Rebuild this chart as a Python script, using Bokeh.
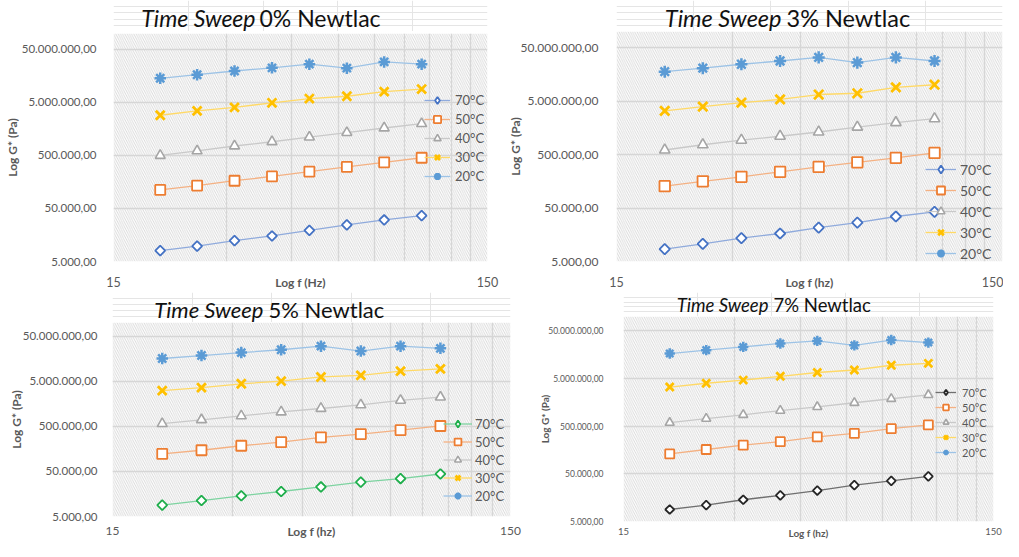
import math
from bokeh.plotting import figure
from bokeh.layouts import column, row
from bokeh.models import (FixedTicker, CustomJSTickFormatter, BoxAnnotation, Label,
                          Legend, LegendItem, Range1d)
from bokeh.embed import file_html
from bokeh.resources import INLINE

# ---------------- data ----------------
freq_hz = [20.0, 25.1, 31.6, 39.8, 50.1, 63.1, 79.4, 100.0]
temps = ["70°C", "50°C", "40°C", "30°C", "20°C"]

ytick_values = [5000, 50000, 500000, 5000000, 50000000]
ytick_labels = ["5.000,00", "50.000,00", "500.000,00", "5.000.000,00", "50.000.000,00"]
xtick_values = [15, 150]
xtick_labels = ["15", "150"]
x_minor_grid = [30, 45, 60, 75, 90, 105, 120, 135]

titles_italic = ["Time Sweep", "Time Sweep", "Time Sweep", "Time Sweep"]
titles_rest = ["0% Newtlac", "3% Newtlac", "5% Newtlac", "7% Newtlac"]
x_titles = ["Log f (Hz)", "Log f (hz)", "Log f (hz)", "Log f (hz)"]
y_title = "Log G* (Pa)"

# 0 % Newtlac
g0_70 = [8000, 9750, 12400, 15150, 19300, 24550, 30400, 36600]
g0_50 = [112000, 135000, 167000, 201000, 249000, 304000, 371000, 453000]
g0_40 = [500000, 610000, 755000, 908000, 1110000, 1350000, 1650000, 1990000]
g0_30 = [2870000, 3460000, 4040000, 4930000, 5930000, 6550000, 8000000, 8960000]
g0_20 = [14300000, 16700000, 19600000, 22500000, 26400000, 22200000, 29100000, 26400000]

# 3 % Newtlac
g3_70 = [8530, 10700, 13700, 16700, 21500, 26600, 34700, 42300]
g3_50 = [128000, 158000, 192000, 238000, 293000, 357000, 435000, 536000]
g3_40 = [608000, 762000, 928000, 1100000, 1320000, 1630000, 1980000, 2340000]
g3_30 = [3280000, 3940000, 4660000, 5360000, 6630000, 7000000, 9000000, 10100000]
g3_20 = [17700000, 20600000, 24400000, 28100000, 32800000, 26200000, 32800000, 28100000]

# 5 % Newtlac
g5_70 = [8930, 11300, 14400, 17900, 22600, 29000, 34700, 43800]
g5_50 = [122000, 147000, 185000, 222000, 284000, 336000, 410000, 508000]
g5_40 = [571000, 697000, 849000, 1040000, 1240000, 1490000, 1880000, 2220000]
g5_30 = [3090000, 3590000, 4380000, 5000000, 6200000, 6740000, 8360000, 9380000]
g5_20 = [15900000, 18500000, 21500000, 24900000, 29900000, 23300000, 29900000, 26700000]

# 7 % Newtlac
g7_70 = [8930, 11000, 14300, 17700, 22300, 28900, 35700, 44300]
g7_50 = [130700, 162000, 200000, 237000, 298000, 352000, 443000, 531000]
g7_40 = [591000, 721000, 866000, 1060000, 1270000, 1550000, 1880000, 2260000]
g7_30 = [3310000, 3980000, 4630000, 5560000, 6680000, 7550000, 9480000, 10400000]
g7_20 = [16700000, 19700000, 23000000, 27200000, 30700000, 24800000, 32100000, 28400000]

panel_series = [
    [g0_70, g0_50, g0_40, g0_30, g0_20],
    [g3_70, g3_50, g3_40, g3_30, g3_20],
    [g5_70, g5_50, g5_40, g5_30, g5_20],
    [g7_70, g7_50, g7_40, g7_30, g7_20],
]

# ---------------- styles ----------------
markers = ["square", "square", "triangle", "x", "asterisk"]
angles = [math.pi / 4, 0, 0, 0, 0]
marker_colors = ["#4472C4", "#ED7D31", "#A5A5A5", "#FFC000", "#5B9BD5"]
line_colors = ["#8FAADC", "#F4B183", "#C9C9C9", "#FFD966", "#9DC3E6"]
mcol70 = ["#4472C4", "#4472C4", "#1EAE4B", "#262626"]
lcol70 = ["#8FAADC", "#8FAADC", "#7DD3A0", "#6F6F6F"]

FONT = "Lato"
GRAY = "#595959"

layouts = [
    dict(w=502, th=31, h=261, l=113, r=15, t=2, b=27, tfs=11.5, ys=17, xs=11, xfs=12.5,
         ti=142, tr=146, ty=14, tt=23, ysd=-1, lfs=12, xsd=-15,
         leg=(311, 76, 26, 18, 18, 1, 5, 13), ms=1.0),
    dict(w=501, th=31, h=261, l=114, r=1, t=0, b=27, tfs=12, ys=18, xs=11, xfs=12.5,
         ti=165, tr=170, ty=14, tt=23.5, ysd=-5, lfs=12, xsd=-15,
         leg=(309, -2, 31, 20, 20, 1, 4, 14), ms=1.05),
    dict(w=536, th=30, h=219, l=112, r=26, t=0, b=21, tfs=11.5, ys=15, xs=6, xfs=12,
         ti=151, tr=156, ty=13, tt=22, ysd=-4, lfs=12, xsd=-14,
         leg=(331, 12, 29, 17, 17, 1, 3, 13), ms=1.0),
    dict(w=467, th=24, h=225, l=85, r=10, t=0, b=14, tfs=8.5, ys=20, xs=2, xfs=9.5,
         ti=145, tr=150, ty=12, tt=18.5, ysd=-6, lfs=10, xsd=-11,
         leg=(312, 62, 21, 14, 14, 1, 6, 11), ms=0.9),
]

fmt_code = """
for (let i = 0; i < vals.length; i++) {
  if (Math.abs(Math.log10(tick) - Math.log10(vals[i])) < 1e-6) return labels[i];
}
return '';
"""


def make_title(k):
    L = layouts[k]
    t = figure(width=L["w"], height=L["th"], x_range=(0, 1), y_range=(0, 1), title=None,
               toolbar_location=None, output_backend="svg", x_axis_location=None,
               y_axis_location=None, min_border=0)
    t.outline_line_color = None
    t.background_fill_color = "white"
    t.border_fill_color = "white"
    t.add_layout(Label(x=L["ti"], y=L["ty"], x_units="screen", y_units="screen",
                       text=titles_italic[k], text_align="right", text_baseline="middle",
                       text_font=FONT, text_font_style="italic",
                       text_font_size=f"{L['tt']}px", text_color="#111111"))
    t.add_layout(Label(x=L["tr"], y=L["ty"], x_units="screen", y_units="screen",
                       text=titles_rest[k], text_align="left", text_baseline="middle",
                       text_font=FONT, text_font_size=f"{L['tt']}px", text_color="#111111"))
    return t


def make_panel(k):
    L = layouts[k]
    p = figure(width=L["w"], height=L["h"], x_axis_type="log", y_axis_type="log",
               x_range=(15, 150), y_range=(5000, 1e8), title=None,
               toolbar_location=None, output_backend="svg",
               min_border_left=L["l"], min_border_right=L["r"],
               min_border_top=L["t"], min_border_bottom=L["b"])
    p.outline_line_color = None
    p.background_fill_color = "white"
    p.border_fill_color = "white"
    # range far outside the view: used only to give the legend a diamond swatch
    p.extra_y_ranges = {"legend_only": Range1d(start=1e15, end=1e16)}

    # hatched plot-area background
    p.add_layout(BoxAnnotation(level="image", fill_alpha=0, line_color=None,
                               hatch_pattern="\\", hatch_color="#cdcdcd",
                               hatch_scale=4.5, hatch_weight=0.75, hatch_alpha=1.0))

    xt = FixedTicker(ticks=xtick_values, minor_ticks=x_minor_grid)
    yt = FixedTicker(ticks=ytick_values, minor_ticks=[])
    p.xaxis.ticker = xt
    p.xgrid.ticker = xt
    p.yaxis.ticker = yt
    p.ygrid.ticker = yt
    p.xaxis.formatter = CustomJSTickFormatter(args=dict(vals=xtick_values, labels=xtick_labels),
                                              code=fmt_code)
    p.yaxis.formatter = CustomJSTickFormatter(args=dict(vals=ytick_values, labels=ytick_labels),
                                              code=fmt_code)
    for ax in (p.xaxis, p.yaxis):
        ax.axis_line_color = None
        ax.major_tick_line_color = None
        ax.minor_tick_line_color = None
        ax.major_tick_out = 0
        ax.major_tick_in = 0
        ax.major_label_text_font = FONT
        ax.major_label_text_color = GRAY
        ax.axis_label_text_font = FONT
        ax.axis_label_text_font_style = "bold"
        ax.axis_label_text_color = GRAY
        ax.axis_label_text_font_size = f"{L['lfs']}px"
    p.yaxis.major_label_text_font_size = f"{L['tfs']}px"
    p.xaxis.major_label_text_font_size = f"{L['xfs']}px"
    p.yaxis.major_label_standoff = L["ys"]
    p.xaxis.major_label_standoff = L["xs"]
    p.yaxis.axis_label = y_title
    p.yaxis.axis_label_standoff = L["ysd"]
    p.xaxis.axis_label = x_titles[k]
    p.xaxis.axis_label_standoff = L["xsd"]

    p.xgrid.grid_line_color = "#d6d6d6"
    p.xgrid.grid_line_width = 1.3
    p.xgrid.minor_grid_line_color = "#d6d6d6"
    p.xgrid.minor_grid_line_width = 1.3
    p.ygrid.grid_line_color = "#d6d6d6"
    p.ygrid.grid_line_width = 1.3

    ms = L["ms"]
    sizes = [7 * ms, 10 * ms, 10 * ms, 12.5 * ms, 11.5 * ms]
    widths = [1.8, 1.8, 1.6, 2.8, 2.5]
    items = []
    for i, vals in enumerate(panel_series[k]):
        mc = mcol70[k] if i == 0 else marker_colors[i]
        lc = lcol70[k] if i == 0 else line_colors[i]
        lr = p.line(freq_hz, vals, line_color=lc, line_width=1.3)
        sr = p.scatter(freq_hz, vals, marker=markers[i], size=sizes[i], angle=angles[i],
                       line_color=mc, fill_color="white", line_width=widths[i])
        if markers[i] in ("x", "asterisk"):
            sr.glyph.fill_color = None
        if i == 0:
            # legend swatch for the diamond marker (the legend ignores marker angle)
            dr = p.scatter(freq_hz, vals, marker="diamond", size=11 * ms, line_color=mc,
                           fill_color="white", line_width=1.8, y_range_name="legend_only")
            items.append(LegendItem(label=temps[i], renderers=[lr, dr]))
        else:
            items.append(LegendItem(label=temps[i], renderers=[lr, sr]))

    lx, ly, gw, gh, lh, sp, so, fs = L["leg"]
    leg = Legend(items=items, location=(lx, ly), glyph_width=gw, glyph_height=gh,
                 label_height=lh, spacing=sp, label_standoff=so, padding=0, margin=0,
                 border_line_color=None, background_fill_alpha=0,
                 label_text_font=FONT, label_text_font_size=f"{fs}px",
                 label_text_color=GRAY)
    p.add_layout(leg)
    return p


cols = [column(make_title(k), make_panel(k)) for k in range(4)]
layout = column(row(cols[0], cols[1]), row(cols[2], cols[3]))

open("out.html", "w").write(file_html(layout, INLINE))
